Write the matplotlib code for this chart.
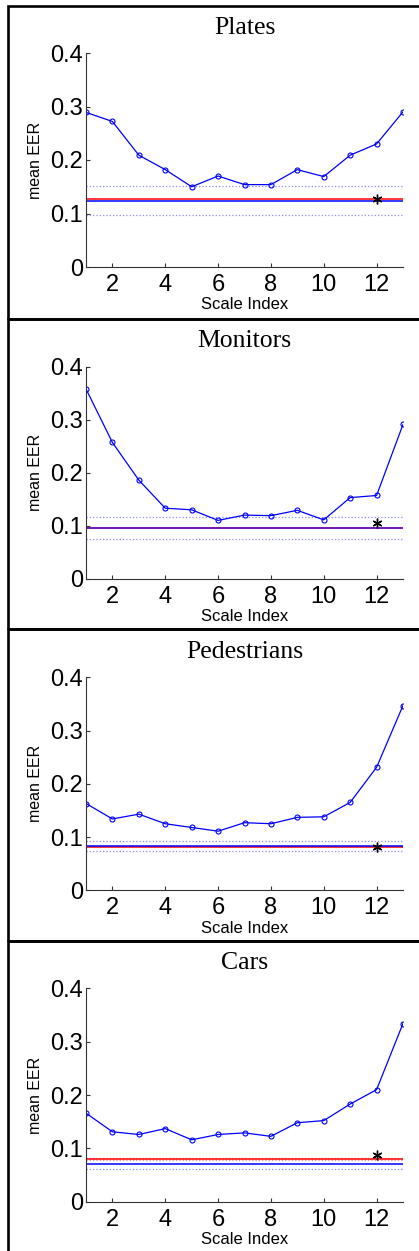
import matplotlib
matplotlib.use('Agg')
import matplotlib.pyplot as plt
from matplotlib.patches import Rectangle

# scale index on the x axis
scales = list(range(1, 14))

titles = ['Plates', 'Monitors', 'Pedestrians', 'Cars']

# mean EER per scale, one list per category
plates_eer = [0.289, 0.272, 0.209, 0.182, 0.150, 0.170, 0.154, 0.154, 0.182, 0.169, 0.209, 0.230, 0.290]
monitors_eer = [0.358, 0.257, 0.186, 0.133, 0.130, 0.110, 0.120, 0.119, 0.129, 0.111, 0.153, 0.157, 0.291]
pedestrians_eer = [0.163, 0.134, 0.143, 0.125, 0.118, 0.111, 0.127, 0.125, 0.137, 0.138, 0.165, 0.231, 0.347]
cars_eer = [0.166, 0.131, 0.126, 0.137, 0.116, 0.126, 0.129, 0.1225, 0.148, 0.152, 0.183, 0.210, 0.334]

# horizontal reference levels
red_level = [0.128, 0.0957, 0.0807, 0.080]
blue_level = [0.123, 0.0955, 0.0838, 0.0707]
blue_dot_hi = [0.151, 0.116, 0.0931, None]
blue_dot_lo = [0.097, 0.075, 0.0732, 0.0607]
red_dot = [None, None, None, 0.080]

# the '*' marker
star_x = 12
star_y = [0.127, 0.105, 0.0807, 0.088]

yticks = [0, 0.1, 0.2, 0.3, 0.4]
ytick_labels = ['0', '0.1', '0.2', '0.3', '0.4']
xticks = [2, 4, 6, 8, 10, 12]

all_eer = [plates_eer, monitors_eer, pedestrians_eer, cars_eer]

W, H = 419, 1251
fig = plt.figure(figsize=(W / 100, H / 100), dpi=100)

# panel boxes (pixel rows of the separators)
box_tops = [6.5, 319, 629, 941]
box_bottoms = [319, 629, 941, 1262]
for t, b in zip(box_tops, box_bottoms):
    fig.add_artist(Rectangle((7.5 / W, 1 - b / H), 1.2, (b - t) / H,
                             transform=fig.transFigure, fill=False,
                             edgecolor='black', linewidth=1.9, clip_on=False))

# axes rows in pixels: top, bottom
ax_rows = [(53, 267), (366.7, 578.7), (677.3, 890.3), (988.3, 1201.7)]
left_px, right_px = 86, 403

sans = 'Liberation Sans'
serif = 'Liberation Serif'

for i, (top, bot) in enumerate(ax_rows):
    ax = fig.add_axes([left_px / W, 1 - bot / H, (right_px - left_px) / W, (bot - top) / H])
    eer = all_eer[i]

    if blue_dot_hi[i] is not None:
        ax.axhline(blue_dot_hi[i], color='#8c8cff', linestyle=':', linewidth=0.9)
    if blue_dot_lo[i] is not None:
        ax.axhline(blue_dot_lo[i], color='#8c8cff', linestyle=':', linewidth=0.9)
    if red_dot[i] is not None:
        ax.axhline(red_dot[i] + 0.0015, color='#ff8888', linestyle=':', linewidth=0.9)
        ax.axhline(red_dot[i] - 0.0015, color='#ff8888', linestyle=':', linewidth=0.9)
    ax.axhline(red_level[i], color='red', linewidth=1.1)
    ax.axhline(blue_level[i], color='blue', linewidth=1.1)
    if i == 1:
        # both solid lines overlap -> purple look
        ax.axhline(red_level[i], color='#7a1fb0', linewidth=1.3)

    ax.plot(scales, eer, color='blue', linewidth=0.9, marker='o', markersize=3.6,
            markerfacecolor='none', markeredgecolor='blue', markeredgewidth=0.8)
    ax.plot([star_x], [star_y[i]], linestyle='none', marker=(6, 2, 0),
            markersize=7, color='black', markeredgewidth=1.0)

    ax.set_xlim(1, 13)
    ax.set_ylim(0, 0.4)
    ax.set_xticks(xticks)
    ax.set_yticks(yticks)
    ax.set_yticklabels(ytick_labels)
    ax.spines['top'].set_visible(False)
    ax.spines['right'].set_visible(False)
    for s in ['left', 'bottom']:
        ax.spines[s].set_linewidth(0.8)
        ax.spines[s].set_color('#333333')
    ax.tick_params(direction='in', length=3, width=0.8, color='#333333')
    ax.tick_params(axis='x', pad=5)
    ax.tick_params(axis='y', pad=2)
    for lab in ax.get_xticklabels() + ax.get_yticklabels():
        lab.set_fontfamily(sans)
        lab.set_fontsize(17)

    ax.set_title(titles[i], fontfamily=serif, fontsize=18.5, pad=14)
    ax.set_xlabel('Scale Index', fontfamily=sans, fontsize=12)
    ax.xaxis.set_label_coords(0.5, -0.142)
    ax.set_ylabel('mean EER', fontfamily=sans, fontsize=11.5)
    ax.yaxis.set_label_coords(-0.135, 0.5)

fig.savefig('out.png', dpi=100)
